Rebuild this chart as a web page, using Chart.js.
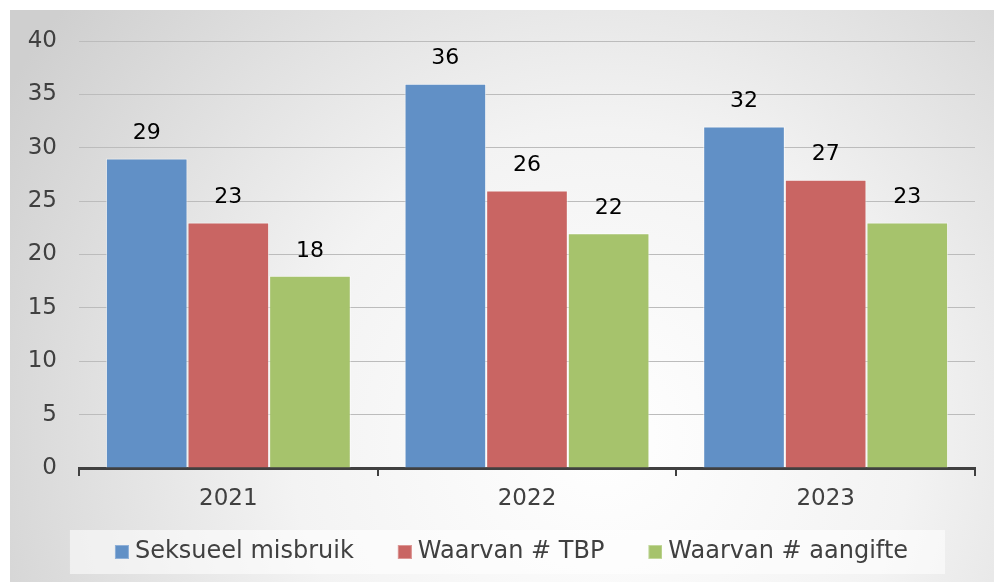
<!DOCTYPE html>
<html>
<head>
<meta charset="utf-8">
<script src="https://cdn.jsdelivr.net/npm/chart.js@4"></script>
<style>
  html, body { margin: 0; padding: 0; background: #fff; }
  #wrap { position: absolute; left: 10px; top: 10px; width: 984px; height: 572px; }
</style>
</head>
<body>
<div id="wrap"><canvas id="grafiek"></canvas></div>
<script>
const jaren = ['2021', '2022', '2023'];
const seksueelMisbruik = [29, 36, 32];
const waarvanTBP = [23, 26, 27];
const waarvanAangifte = [18, 22, 23];
const yTicks = [0, 5, 10, 15, 20, 25, 30, 35, 40];
const kleuren = ['#6190c6', '#c96563', '#a6c36c'];
const randKleuren = ['#8fb0d8', '#dc9896', '#c3d89c'];

const lettertype = 'DejaVu Sans, Verdana, sans-serif';

// legenda-blokje: transparante ruimte links, gekleurd vierkantje rechts
function maakBlokje(kleur, rand) {
    const c = document.createElement('canvas');
    c.width = 38;
    c.height = 14;
    const x = c.getContext('2d');
    x.fillStyle = rand;
    x.fillRect(24, 0, 14, 14);
    x.fillStyle = kleur;
    x.fillRect(25, 1, 12, 12);
    return c;
}
const blokjes = kleuren.map((k, i) => maakBlokje(k, randKleuren[i]));

// achtergrond: grijs verloop, licht in het midden
const achtergrond = {
    id: 'achtergrond',
    afterLayout(chart) {
        // legenda iets naar rechts
        const lg = chart.legend;
        lg.left += 20;
        (lg.legendHitBoxes || []).forEach(b => { b.left += 10; });
    },
    beforeDraw(chart) {
        const ctx = chart.ctx;
        const w = chart.width, h = chart.height;
        const g = ctx.createRadialGradient(w * 0.6, h * 0.75, 0, w * 0.6, h * 0.75, w * 0.7);
        g.addColorStop(0, '#ffffff');
        g.addColorStop(0.45, '#f3f3f3');
        g.addColorStop(1, '#cfcfcf');
        ctx.save();
        ctx.fillStyle = g;
        ctx.fillRect(0, 0, w, h);
        // legenda vak
        const items = chart.legend.legendHitBoxes;
        if (items && items.length) {
            const l = Math.min(...items.map(b => b.left)) - 27;
            const r = Math.max(...items.map(b => b.left + b.width)) + 37;
            const t = Math.min(...items.map(b => b.top)) - 10;
            const bt = Math.max(...items.map(b => b.top + b.height)) + 10;
            ctx.fillStyle = 'rgba(255,255,255,0.55)';
            ctx.fillRect(l, t, r - l, bt - t);
        }
        ctx.restore();
    }
};

// getallen boven de staven
const waardenLabels = {
    id: 'waardenLabels',
    afterDatasetsDraw(chart) {
        const ctx = chart.ctx;
        ctx.save();
        ctx.font = '22px ' + lettertype;
        ctx.fillStyle = '#000';
        ctx.textAlign = 'center';
        ctx.textBaseline = 'middle';
        chart.data.datasets.forEach((ds, i) => {
            chart.getDatasetMeta(i).data.forEach((bar, j) => {
                ctx.fillText(ds.data[j], bar.x, bar.y - 25);
            });
        });
        ctx.restore();
    }
};

new Chart(document.getElementById('grafiek'), {
    type: 'bar',
    data: {
        labels: jaren,
        datasets: [
            { label: 'Seksueel misbruik', data: seksueelMisbruik, backgroundColor: kleuren[0] },
            { label: 'Waarvan # TBP', data: waarvanTBP, backgroundColor: kleuren[1] },
            { label: 'Waarvan # aangifte', data: waarvanAangifte, backgroundColor: kleuren[2] }
        ].map(d => Object.assign(d, {
            borderColor: 'rgba(255,255,255,0.6)',
            borderWidth: 1,
            categoryPercentage: 0.82,
            barPercentage: 1.0
        }))
    },
    options: {
        responsive: true,
        maintainAspectRatio: false,
        animation: false,
        layout: { padding: { left: 0, right: 19, top: 31, bottom: 8 } },
        plugins: {
            legend: {
                position: 'bottom',
                labels: {
                    font: { family: lettertype, size: 24 },
                    color: '#404040',
                    usePointStyle: true,
                    pointStyleWidth: 26,
                    boxHeight: 14,
                    padding: 26,
                    generateLabels(chart) {
                        const items = Chart.defaults.plugins.legend.labels.generateLabels(chart);
                        items.forEach((it, i) => { it.pointStyle = blokjes[i]; });
                        return items;
                    }
                }
            },
            tooltip: { enabled: false }
        },
        scales: {
            x: {
                afterFit(axis) {
                    axis.height = 46;
                    axis.paddingLeft = 0;
                    axis.paddingRight = 0;
                },
                grid: {
                    offset: true,
                    drawOnChartArea: false,
                    color: '#404040',
                    lineWidth: 2,
                    tickLength: 8
                },
                border: { display: true, color: '#404040', width: 3 },
                ticks: { font: { family: lettertype, size: 23 }, color: '#404040', padding: 9 }
            },
            y: {
                min: 0,
                max: 40,
                afterBuildTicks(axis) { axis.ticks = yTicks.map(v => ({ value: v })); },
                afterFit(axis) {
                    axis.width = 69;
                    axis.paddingTop = 0;
                    axis.paddingBottom = 0;
                },
                grid: { color: '#bcbcbc', lineWidth: 1, drawTicks: false },
                border: { display: false },
                ticks: { font: { family: lettertype, size: 23 }, color: '#404040', padding: 22 }
            }
        }
    },
    plugins: [achtergrond, waardenLabels]
});
</script>
</body>
</html>
